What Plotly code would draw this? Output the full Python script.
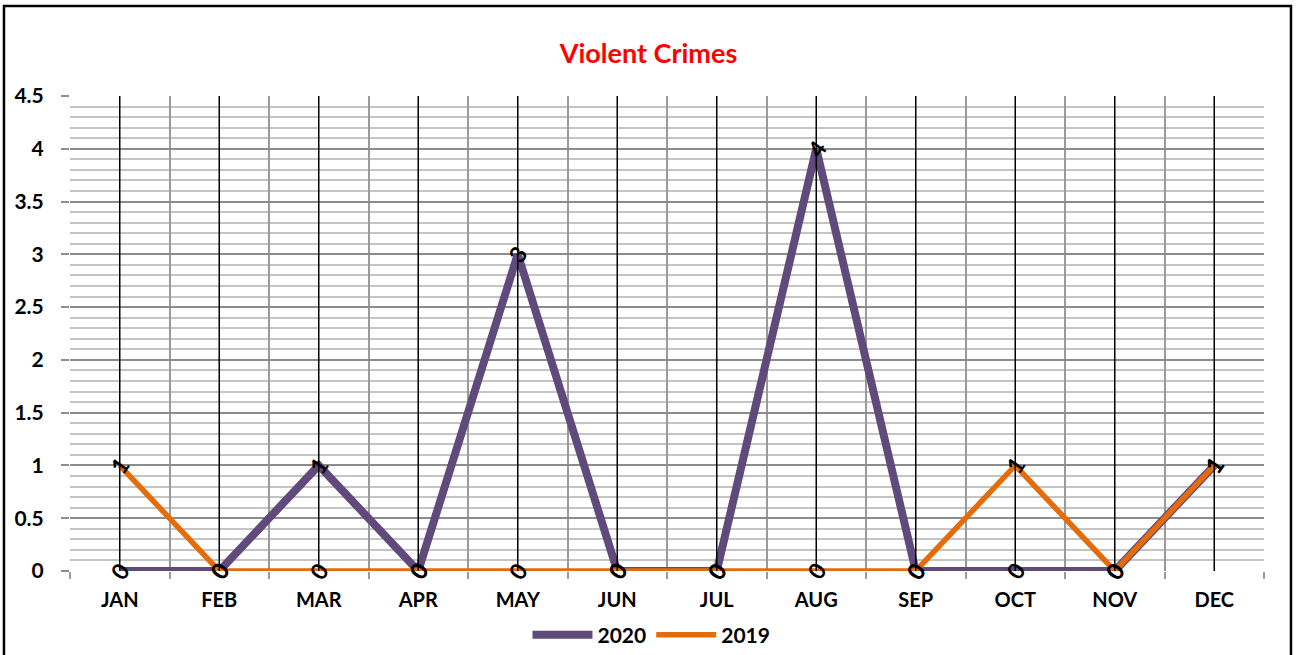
import plotly.graph_objects as go

months = ["JAN", "FEB", "MAR", "APR", "MAY", "JUN", "JUL", "AUG", "SEP", "OCT", "NOV", "DEC"]
y2020 = [0, 0, 1, 0, 3, 0, 0, 4, 0, 0, 0, 1]
y2019 = [1, 0, 0, 0, 0, 0, 0, 0, 0, 1, 0, 1]
y_ticks = [0, 0.5, 1, 1.5, 2, 2.5, 3, 3.5, 4, 4.5]
y_tick_text = ["0", "0.5", "1", "1.5", "2", "2.5", "3", "3.5", "4", "4.5"]

FONT = "Lato, 'Open Sans', sans-serif"
PURPLE = "#604A7B"
ORANGE = "#E46C0A"

fig = go.Figure()
fig.add_trace(go.Scatter(x=months, y=y2020, mode="lines", name="<b>2020</b>",
                         line=dict(color=PURPLE, width=8)))
fig.add_trace(go.Scatter(x=months, y=y2019, mode="lines", name="<b>2019</b>",
                         line=dict(color=ORANGE, width=5.5)))

# vertical black lines at category centres
for m in months:
    fig.add_shape(type="line", xref="x", yref="y", x0=m, x1=m, y0=0, y1=4.5,
                  line=dict(color="black", width=1.5), layer="above")

# rotated data labels
for series in (y2020, y2019):
    for m, v in zip(months, series):
        fig.add_annotation(x=m, y=v, text=f"<b>{v}</b>", showarrow=False,
                           textangle=-55, font=dict(family=FONT, size=23, color="black"),
                           xanchor="center", yanchor="middle")

# outer border
fig.add_shape(type="rect", xref="paper", yref="paper", x0=-0.0553, x1=1.0226,
              y0=-0.3, y1=1.1895, line=dict(color="black", width=2.5))

fig.update_layout(
    width=1297, height=655,
    margin=dict(l=70, r=33, t=96, b=84, autoexpand=False),
    paper_bgcolor="white", plot_bgcolor="white",
    title=dict(text="<b>Violent Crimes</b>", x=0.5, xanchor="center",
               y=1 - 54 / 655, yanchor="middle",
               font=dict(family=FONT, size=27, color="#FF0000")),
    showlegend=True,
    legend=dict(orientation="h", x=0.487, xanchor="center",
                yref="container", y=20 / 655, yanchor="middle",
                font=dict(family=FONT, size=21, color="black"),
                itemwidth=60, tracegroupgap=0),
    font=dict(family=FONT),
)

fig.update_xaxes(
    type="category", range=[-0.5, 11.5], tickson="boundaries",
    showgrid=True, gridcolor="#9a9a9a", gridwidth=1.5,
    ticks="outside", ticklen=7, tickcolor="#9a9a9a", tickwidth=1.5,
    showline=False, zeroline=False, automargin=False,
    tickfont=dict(family=FONT, size=20, color="black"),
    tickprefix="<b>", ticksuffix="</b>",
    ticklabelstandoff=15,
)
fig.update_yaxes(
    range=[0, 4.5], tickvals=y_ticks, ticktext=[f"<b>{t}</b>" for t in y_tick_text],
    showgrid=True, gridcolor="#8c8c8c", gridwidth=1.5,
    minor=dict(dtick=0.1, showgrid=True, gridcolor="#c4c4c4", gridwidth=1.5),
    ticks="outside", ticklen=8, tickcolor="#8c8c8c", tickwidth=1.5,
    showline=False, zeroline=False, automargin=False,
    tickfont=dict(family=FONT, size=21, color="black"),
    ticklabelstandoff=13,
)

fig.write_html("out.html", config={"displayModeBar": False},
               post_script="document.body.style.margin='0';")
